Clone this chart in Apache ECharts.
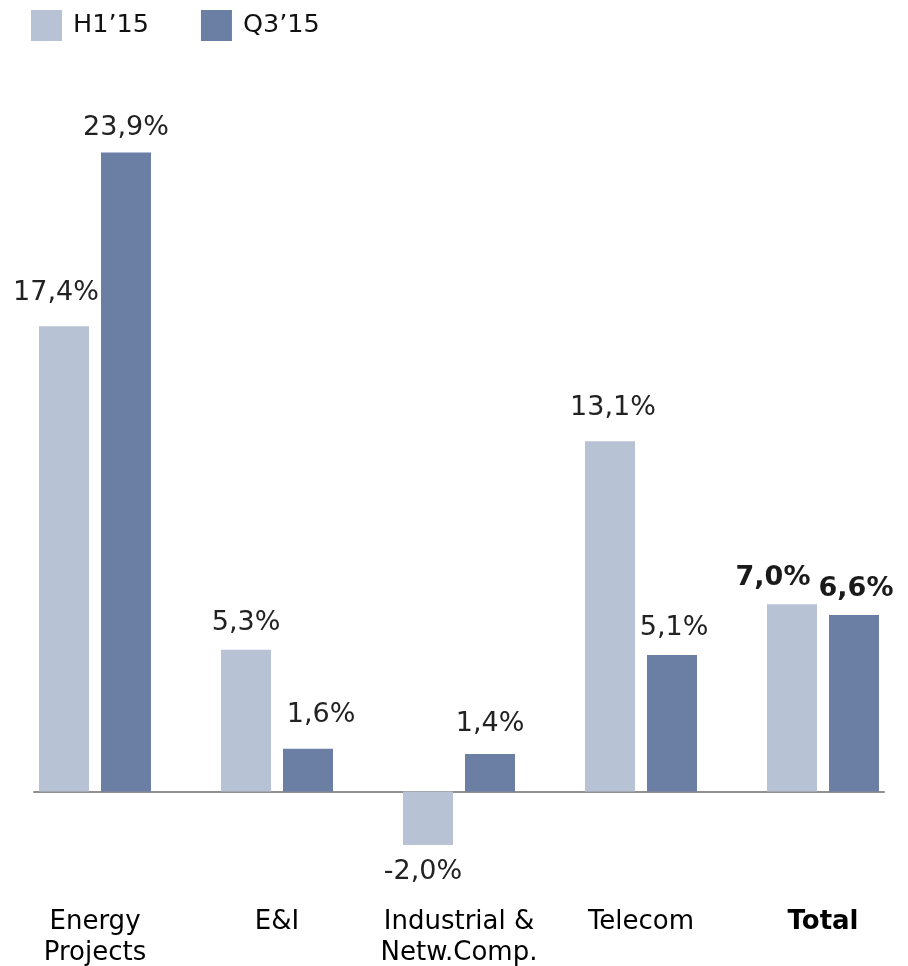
<!DOCTYPE html>
<html>
<head>
<meta charset="utf-8">
<script src="https://cdn.jsdelivr.net/npm/echarts@6/dist/echarts.min.js"></script>
<style>
html,body{margin:0;padding:0;background:#fff;}
#chart{width:908px;height:966px;}
</style>
</head>
<body>
<div id="chart"></div>
<script>
const categories = ['Energy\nProjects', 'E&I', 'Industrial &\nNetw.Comp.', 'Telecom', 'Total'];
const seriesNames = ['H1\u201915', 'Q3\u201915'];
const h1Values = [17.4, 5.3, -2.0, 13.1, 7.0];
const q3Values = [23.9, 1.6, 1.4, 5.1, 6.6];

// label nudges (style only)
const h1LabelOffsets = [[-8, -7], [0, 0], [-5, 0], [3, -7], [-19, 0]];
const q3LabelOffsets = [[0, 2], [13, -7], [0, -4], [2, -1], [2, 0]];

const FONT = 'DejaVu Sans';
const totalIndex = categories.length - 1;

function fmt(v) {
  return v.toFixed(1).replace('.', ',') + '%';
}

function buildData(values, offsets) {
  return values.map((v, i) => {
    const neg = v < 0;
    const bold = i === totalIndex;
    return {
      value: v,
      label: {
        position: neg ? 'bottom' : 'top',
        distance: neg ? 14 : 13,
        offset: offsets[i],
        fontWeight: bold ? 'bold' : 'normal',
        color: bold ? '#1a1a1a' : '#222'
      }
    };
  });
}

const gridTop = 96.3, gridHeight = 802.1;

const chart = echarts.init(document.getElementById('chart'));
chart.setOption({
  backgroundColor: '#fff',
  animation: false,
  legend: {
    left: 26,
    top: 5,
    itemWidth: 31,
    itemHeight: 31,
    itemGap: 52,
    icon: 'rect',
    textStyle: { fontFamily: FONT, fontSize: 25.5, color: '#111', padding: [0, 0, 0, 6] },
    data: seriesNames
  },
  grid: [
    { left: 4, width: 910, top: gridTop, height: gridHeight, outerBoundsMode: 'none' },
    { left: 34, width: 850, top: gridTop, height: gridHeight, outerBoundsMode: 'none' }
  ],
  xAxis: [
    {
      type: 'category',
      gridIndex: 0,
      data: categories,
      position: 'bottom',
      axisLine: { show: false, onZero: false },
      axisTick: { show: false },
      axisLabel: {
        margin: 8,
        fontFamily: FONT,
        fontSize: 26,
        lineHeight: 31,
        color: '#000',
        interval: 0,
        formatter: (v) => v === 'Total' ? '{b|' + v + '}' : v,
        rich: { b: { fontFamily: FONT, fontSize: 26, lineHeight: 31, fontWeight: 'bold', color: '#000' } }
      }
    },
    {
      type: 'value',
      gridIndex: 1,
      min: 0,
      max: 1,
      axisLine: { show: true, onZero: true, lineStyle: { color: '#8f8f8f', width: 2 } },
      axisTick: { show: false },
      axisLabel: { show: false },
      splitLine: { show: false }
    }
  ],
  yAxis: [
    { type: 'value', gridIndex: 0, min: -4, max: 26, show: false, splitLine: { show: false } },
    { type: 'value', gridIndex: 1, min: -4, max: 26, show: false, splitLine: { show: false } }
  ],
  series: [
    {
      name: seriesNames[0],
      type: 'bar',
      xAxisIndex: 0, yAxisIndex: 0,
      barWidth: 50,
      barGap: '24%',
      itemStyle: { color: '#b7c2d5' },
      label: {
        show: true,
        fontFamily: FONT,
        fontSize: 27,
        color: '#222',
        formatter: (p) => fmt(p.value)
      },
      data: buildData(h1Values, h1LabelOffsets)
    },
    {
      name: seriesNames[1],
      type: 'bar',
      xAxisIndex: 0, yAxisIndex: 0,
      barWidth: 50,
      barGap: '24%',
      itemStyle: { color: '#6b7fa5' },
      label: {
        show: true,
        fontFamily: FONT,
        fontSize: 27,
        color: '#222',
        formatter: (p) => fmt(p.value)
      },
      data: buildData(q3Values, q3LabelOffsets)
    }
  ]
});
</script>
</body>
</html>
